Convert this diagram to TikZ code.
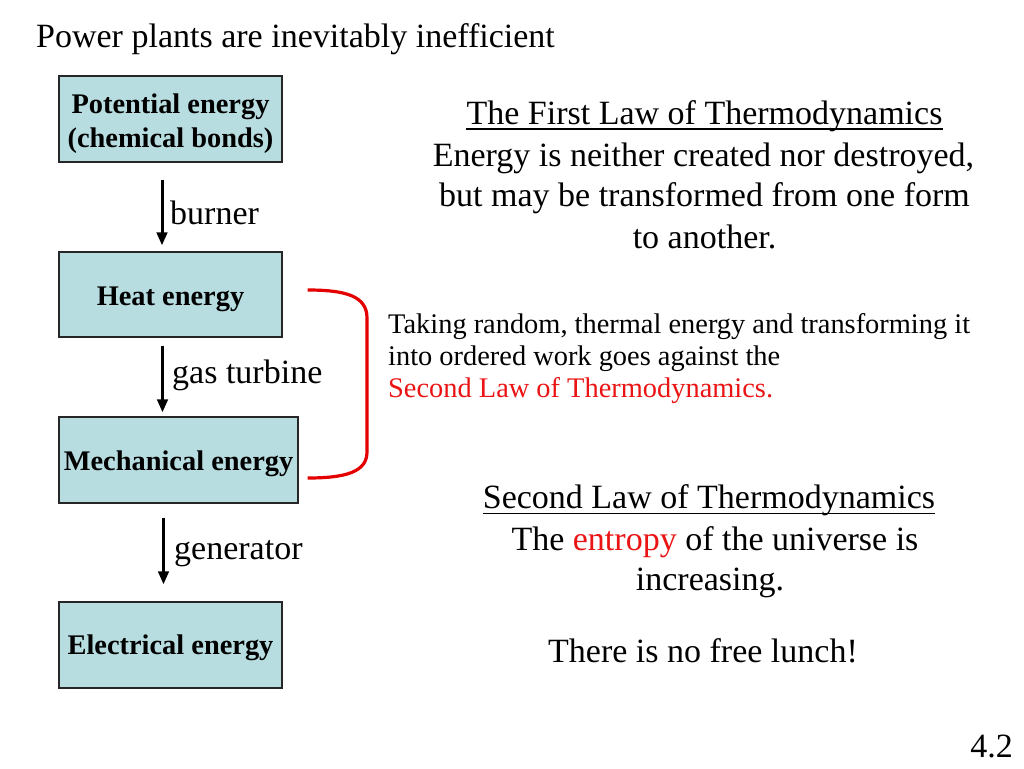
\documentclass[tikz,border=0pt]{standalone}
\usepackage{fontspec}
\setmainfont{Liberation Serif}
\usetikzlibrary{arrows.meta}
\definecolor{boxfill}{RGB}{183,221,224}
\definecolor{bred}{RGB}{228,0,0}
\definecolor{tred}{RGB}{235,20,20}
\begin{document}
\begin{tikzpicture}[x=1pt,y=-1pt,
 box/.style={draw=black!85,line width=1.3pt,fill=boxfill,inner sep=0pt,minimum height=86pt,align=center,font=\fontsize{28.4}{34}\selectfont\bfseries},
 big/.style={inner sep=0pt,font=\fontsize{34}{40}\selectfont},
 small/.style={inner sep=0pt,font=\fontsize{28.4}{31.5}\selectfont},
 flow/.style={line width=3pt,-{Triangle[length=13pt,width=10.5pt]}},
 uline/.style={line width=1.7pt},
 bracket/.style={draw=bred,line width=3.2pt}]
\useasboundingbox (0,0) rectangle (1024,768);
\fill[white] (0,0) rectangle (1024,768);
% title
\node[big,anchor=base west] (title) at (36,48) {Power plants are inevitably inefficient};
% boxes
\node[box,minimum width=223pt,text height=62pt,text depth=6pt] (pot) at (170.5,119) {Potential energy\\(chemical bonds)};
\node[box,minimum width=223pt,minimum height=85pt,text height=28pt,text depth=6pt] (heat) at (170.5,294.5) {Heat energy};
\node[box,minimum width=239pt,text height=26pt,text depth=6pt] (mech) at (178.5,460) {Mechanical energy};
\node[box,minimum width=223pt,text height=24pt,text depth=6pt] (elec) at (170.5,645) {Electrical energy};
% arrows
\draw[flow] ([xshift=-8.5pt,yshift=-17pt]pot.south) -- ([xshift=-8.5pt,yshift=6pt]heat.north);
\draw[flow] ([xshift=-8pt,yshift=-8pt]heat.south) -- ([xshift=-16pt,yshift=4pt]mech.north);
\draw[flow] ([xshift=-15pt,yshift=-14pt]mech.south) -- ([xshift=-7pt,yshift=17pt]elec.north);
% arrow labels
\node[big,anchor=base west] (lb1) at (170,224) {burner};
\node[big,anchor=base west] (lb2) at (172,383) {gas turbine};
\node[big,anchor=base west] (lb3) at (174,559) {generator};
% bracket
\coordinate (br1) at ([xshift=25pt,yshift=4.5pt]heat.east);
\coordinate (br2) at ([xshift=9pt,yshift=-18pt]mech.east);
\draw[bracket] (br1) .. controls +(38,0) and (367,296) .. (367,318) -- (367,452) .. controls (367,472) and ([xshift=38pt]br2) .. (br2);
% first law
\node[big,anchor=base] (fl) at (704.5,124) {The First Law of Thermodynamics};
\draw[uline] ([yshift=-5pt]fl.base west) -- ([yshift=-5pt]fl.base east);
\node[big,anchor=base] (fl1) at (703.5,166) {Energy is neither created nor destroyed,};
\node[big,anchor=base] (fl2) at (704.5,206) {but may be transformed from one form};
\node[big,anchor=base] (fl3) at (704.5,248) {to another.};
% middle paragraph
\node[small,anchor=base west] (p1) at (388,333) {Taking random, thermal energy and transforming it};
\node[small,anchor=base west] (p2) at (388,365) {into ordered work goes against the};
\node[small,anchor=base west,text=tred] (p3) at (388,397) {Second Law of Thermodynamics.};
% second law
\node[big,anchor=base] (sl) at (709,508) {Second Law of Thermodynamics};
\draw[uline] ([yshift=-5.5pt]sl.base west) -- ([yshift=-5.5pt]sl.base east);
\node[big,anchor=base] (sl1) at (715,550) {The \textcolor{tred}{entropy} of the universe is};
\node[big,anchor=base] (sl2) at (710,590) {increasing.};
\node[big,anchor=base] (lunch) at (703,662) {There is no free lunch!};
% page number
\node[big,anchor=base east] (num) at (1013,757) {4.2};
\end{tikzpicture}
\end{document}
